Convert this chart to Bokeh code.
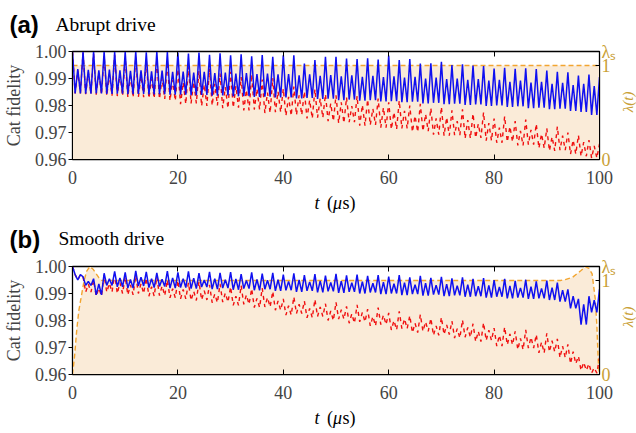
import math
from bokeh.plotting import figure
from bokeh.models import Range1d, LinearAxis, FixedTicker, PrintfTickFormatter, Label
from bokeh.layouts import column, row
from bokeh.embed import file_html
from bokeh.resources import INLINE

# ---------------- data ----------------
# values per 2-us period k (t = 2k): peak, secondary peak, trough
blue_a_hi = [1.0000, 1.0000, 1.0000, 1.0000, 0.9998, 1.0000, 1.0000, 0.9997, 1.0000, 0.9998,
             0.9996, 0.9992, 0.9996, 0.9988, 0.9993, 0.9986, 0.9990, 0.9982, 0.9987, 0.9980,
             0.9986, 0.9986, 0.9955, 0.9968, 0.9980, 0.9980, 0.9974, 0.9972, 0.9975, 0.9970,
             0.9985, 0.9968, 0.9972, 0.9955, 0.9956, 0.9962, 0.9950, 0.9953, 0.9948, 0.9946,
             0.9937, 0.9940, 0.9936, 0.9938, 0.9935, 0.9929, 0.9925, 0.9923, 0.9911, 0.9915]
blue_a_mid = [0.9935, 0.9932, 0.9930, 0.9933, 0.9930, 0.9928, 0.9930, 0.9927, 0.9929, 0.9925,
              0.9926, 0.9922, 0.9925, 0.9920, 0.9922, 0.9918, 0.9920, 0.9916, 0.9918, 0.9915,
              0.9916, 0.9912, 0.9915, 0.9910, 0.9913, 0.9908, 0.9912, 0.9906, 0.9910, 0.9905,
              0.9908, 0.9903, 0.9906, 0.9900, 0.9903, 0.9898, 0.9900, 0.9895, 0.9898, 0.9892,
              0.9895, 0.9888, 0.9892, 0.9885, 0.9888, 0.9880, 0.9884, 0.9876, 0.9880, 0.9872]
blue_a_lo = [0.9845, 0.9844, 0.9845, 0.9843, 0.9844, 0.9842, 0.9843, 0.9841, 0.9842, 0.9840,
             0.9840, 0.9838, 0.9839, 0.9836, 0.9837, 0.9834, 0.9835, 0.9832, 0.9833, 0.9830,
             0.9830, 0.9826, 0.9828, 0.9824, 0.9825, 0.9820, 0.9822, 0.9818, 0.9820, 0.9815,
             0.9816, 0.9812, 0.9814, 0.9808, 0.9810, 0.9805, 0.9807, 0.9802, 0.9804, 0.9798,
             0.9800, 0.9795, 0.9797, 0.9790, 0.9792, 0.9786, 0.9788, 0.9780, 0.9776, 0.9765]
blue_a_end = 0.9905

red_a_hi = [1.0000, 0.9995, 0.9992, 0.9985, 0.9988, 0.9976, 0.9980, 0.9968, 0.9972, 0.9962,
            0.9935, 0.9945, 0.9928, 0.9936, 0.9918, 0.9925, 0.9905, 0.9915, 0.9896, 0.9902,
            0.9862, 0.9870, 0.9852, 0.9860, 0.9842, 0.9838, 0.9830, 0.9835, 0.9822, 0.9826,
            0.9812, 0.9818, 0.9800, 0.9806, 0.9790, 0.9795, 0.9782, 0.9786, 0.9770, 0.9775,
            0.9752, 0.9760, 0.9742, 0.9748, 0.9732, 0.9715, 0.9722, 0.9700, 0.9690, 0.9672]
red_a_mid = [0.9930, 0.9925, 0.9922, 0.9915, 0.9916, 0.9908, 0.9910, 0.9900, 0.9902, 0.9895,
             0.9885, 0.9888, 0.9878, 0.9880, 0.9868, 0.9872, 0.9858, 0.9862, 0.9848, 0.9852,
             0.9832, 0.9838, 0.9820, 0.9826, 0.9808, 0.9812, 0.9798, 0.9802, 0.9788, 0.9792,
             0.9775, 0.9780, 0.9762, 0.9768, 0.9752, 0.9756, 0.9742, 0.9746, 0.9732, 0.9735,
             0.9718, 0.9722, 0.9706, 0.9710, 0.9695, 0.9684, 0.9688, 0.9672, 0.9664, 0.9650]
red_a_lo = [0.9845, 0.9842, 0.9840, 0.9836, 0.9835, 0.9830, 0.9831, 0.9826, 0.9824, 0.9818,
            0.9805, 0.9808, 0.9798, 0.9800, 0.9790, 0.9792, 0.9782, 0.9785, 0.9772, 0.9775,
            0.9762, 0.9765, 0.9752, 0.9755, 0.9742, 0.9735, 0.9738, 0.9725, 0.9728, 0.9718,
            0.9712, 0.9715, 0.9702, 0.9705, 0.9692, 0.9688, 0.9690, 0.9678, 0.9680, 0.9670,
            0.9662, 0.9665, 0.9652, 0.9655, 0.9642, 0.9632, 0.9635, 0.9620, 0.9612, 0.9605]
red_a_end = 0.9658

blue_b_hi = [1.0000, 0.9962, 0.9955, 0.9975, 0.9982, 0.9978, 0.9984, 0.9980, 0.9976, 0.9983,
             0.9978, 0.9982, 0.9975, 0.9980, 0.9976, 0.9979, 0.9972, 0.9978, 0.9974, 0.9976,
             0.9970, 0.9975, 0.9968, 0.9972, 0.9966, 0.9973, 0.9967, 0.9970, 0.9965, 0.9968,
             0.9963, 0.9968, 0.9960, 0.9965, 0.9958, 0.9962, 0.9956, 0.9960, 0.9954, 0.9957,
             0.9950, 0.9954, 0.9947, 0.9951, 0.9945, 0.9948, 0.9940, 0.9915, 0.9880, 0.9890]
blue_b_mid = [0.9950, 0.9945, 0.9935, 0.9955, 0.9958, 0.9952, 0.9960, 0.9955, 0.9953, 0.9958,
              0.9955, 0.9957, 0.9950, 0.9955, 0.9951, 0.9954, 0.9948, 0.9952, 0.9949, 0.9951,
              0.9945, 0.9950, 0.9943, 0.9947, 0.9941, 0.9946, 0.9940, 0.9944, 0.9938, 0.9942,
              0.9936, 0.9940, 0.9933, 0.9938, 0.9931, 0.9935, 0.9929, 0.9933, 0.9927, 0.9930,
              0.9924, 0.9928, 0.9921, 0.9925, 0.9919, 0.9922, 0.9912, 0.9890, 0.9860, 0.9875]
blue_b_lo = [0.9970, 0.9930, 0.9895, 0.9930, 0.9925, 0.9920, 0.9928, 0.9922, 0.9926, 0.9920,
             0.9922, 0.9918, 0.9924, 0.9916, 0.9920, 0.9914, 0.9918, 0.9912, 0.9916, 0.9910,
             0.9912, 0.9906, 0.9910, 0.9904, 0.9908, 0.9902, 0.9906, 0.9900, 0.9904, 0.9898,
             0.9900, 0.9894, 0.9898, 0.9892, 0.9896, 0.9890, 0.9893, 0.9888, 0.9890, 0.9885,
             0.9888, 0.9882, 0.9885, 0.9880, 0.9882, 0.9876, 0.9870, 0.9845, 0.9785, 0.9830]
blue_b_end = 0.9915

red_b_hi = [1.0000, 0.9962, 0.9950, 0.9968, 0.9972, 0.9962, 0.9968, 0.9958, 0.9962, 0.9950,
            0.9948, 0.9940, 0.9944, 0.9932, 0.9936, 0.9925, 0.9930, 0.9918, 0.9920, 0.9908,
            0.9880, 0.9888, 0.9872, 0.9878, 0.9862, 0.9868, 0.9852, 0.9858, 0.9842, 0.9848,
            0.9828, 0.9834, 0.9818, 0.9822, 0.9808, 0.9812, 0.9798, 0.9802, 0.9788, 0.9792,
            0.9772, 0.9776, 0.9760, 0.9765, 0.9748, 0.9752, 0.9732, 0.9712, 0.9668, 0.9640]
red_b_mid = [0.9950, 0.9935, 0.9920, 0.9938, 0.9940, 0.9932, 0.9936, 0.9925, 0.9928, 0.9918,
             0.9915, 0.9908, 0.9910, 0.9898, 0.9902, 0.9890, 0.9895, 0.9882, 0.9885, 0.9872,
             0.9855, 0.9860, 0.9845, 0.9850, 0.9835, 0.9840, 0.9825, 0.9830, 0.9815, 0.9820,
             0.9800, 0.9806, 0.9790, 0.9795, 0.9780, 0.9784, 0.9770, 0.9774, 0.9760, 0.9764,
             0.9745, 0.9750, 0.9734, 0.9738, 0.9720, 0.9725, 0.9705, 0.9685, 0.9645, 0.9625]
red_b_lo = [0.9970, 0.9905, 0.9890, 0.9905, 0.9900, 0.9895, 0.9900, 0.9890, 0.9892, 0.9884,
            0.9880, 0.9874, 0.9876, 0.9866, 0.9868, 0.9856, 0.9860, 0.9848, 0.9850, 0.9838,
            0.9820, 0.9826, 0.9810, 0.9815, 0.9800, 0.9805, 0.9790, 0.9795, 0.9780, 0.9785,
            0.9765, 0.9770, 0.9755, 0.9760, 0.9745, 0.9748, 0.9735, 0.9738, 0.9722, 0.9726,
            0.9705, 0.9710, 0.9692, 0.9698, 0.9680, 0.9684, 0.9662, 0.9640, 0.9615, 0.9605]
red_b_end = 0.9662

# drive amplitude lambda(t)
LAM_S = 1.149
lam_a_t = [0.0, 100.0]
lam_a = [1.0, 1.0]
lam_b_t = [0.0, 0.4, 0.8, 1.2, 1.7, 2.2, 2.7, 3.3, 3.9, 4.5, 5.0, 5.6,
           92.6, 93.5, 94.9, 96.5, 97.3, 98.0, 98.6, 99.2, 99.5, 99.8, 100.0]
lam_b = [0.0, 0.2, 0.47, 0.68, 0.84, 1.0, 1.1, 1.149, 1.12, 1.07, 1.03, 1.0,
         1.0, 1.01, 1.035, 1.106, 1.149, 1.13, 1.07, 0.8, 0.52, 0.1, 0.0]

x_ticks = [0, 20, 40, 60, 80, 100]
y_ticks = [0.96, 0.97, 0.98, 0.99, 1.00]
lam_ticks = [0, 1, LAM_S]
lam_labels = {0: "0", 1: "1", LAM_S: "λₛ"}

# ---------------- style ----------------
SERIF = "Liberation Serif"
SANS = "Liberation Sans"
BLUE = "#1010F0"
RED = "#F01010"
ORANGE = "#F2A530"
FILL = "#FAEBD8"
GOLD = "#C9A035"

W = 636
PANEL_W = 619      # plot figure width (rest is a narrow strip for the λ(t) label)
PANEL_H = 150


def expand(hi, mid, lo, end):
    ts, vs = [], []
    for k in range(len(hi)):
        t0 = 2.0 * k
        ts += [t0, t0 + 0.5, t0 + 1.0, t0 + 1.5]
        vs += [hi[k], lo[k], mid[k], lo[k]]
    ts.append(100.0)
    vs.append(end)
    return ts, vs


def strip(width, height):
    s = figure(width=width, height=height, output_backend="svg", toolbar_location=None,
               x_range=Range1d(0, width), y_range=Range1d(height, 0),
               x_axis_type=None, y_axis_type=None, min_border=0,
               outline_line_color=None)
    s.background_fill_color = "white"
    s.border_fill_color = "white"
    return s


def txt(s, x, y, text, size, font=SERIF, style="normal", color="black",
        align="left", baseline="alphabetic", angle=0.0):
    s.add_layout(Label(x=x, y=y, text=text, text_font=font, text_font_size=size,
                       text_font_style=style, text_color=color, text_align=align,
                       text_baseline=baseline, angle=angle))


def xlabel(s, y):
    txt(s, 314, y, "t", "18px", style="italic")
    txt(s, 326.5, y, "(", "18px")
    txt(s, 332.5, y, "μ", "18px", style="italic")
    txt(s, 342, y, "s)", "18px")


def make_panel(lam_t, lam_v, blue, red):
    p = figure(width=PANEL_W, height=PANEL_H, output_backend="svg", toolbar_location=None,
               x_range=Range1d(0, 100), y_range=Range1d(0.96, 1.0),
               min_border_left=71, min_border_right=PANEL_W - 71 - 528,
               min_border_top=11, min_border_bottom=PANEL_H - 11 - 108)
    p.extra_y_ranges = {"lam": Range1d(0, LAM_S)}
    p.xgrid.visible = False
    p.ygrid.visible = False
    p.outline_line_color = "black"
    p.outline_line_width = 1.3
    p.background_fill_color = "white"
    p.border_fill_color = "white"

    p.varea(x=lam_t, y1=[0.0] * len(lam_t), y2=lam_v, y_range_name="lam",
            fill_color=FILL, fill_alpha=1.0)
    p.line(lam_t, lam_v, y_range_name="lam", line_color=ORANGE, line_width=1.4,
           line_dash="5 3")

    bt, bv = blue
    rt, rv = red
    p.line(rt, rv, line_color=RED, line_width=1.4, line_dash="4 4")
    p.line(bt, bv, line_color=BLUE, line_width=1.5)

    ya = p.yaxis[0]
    ya.ticker = FixedTicker(ticks=y_ticks)
    ya.formatter = PrintfTickFormatter(format="%.2f")
    ya.major_tick_out = 4
    ya.major_tick_in = 0
    ya.minor_tick_line_color = None
    ya.major_label_standoff = 2
    ya.major_label_text_font = SERIF
    ya.major_label_text_font_size = "18px"
    ya.axis_label = "Cat fidelity"
    ya.axis_label_text_font = SERIF
    ya.axis_label_text_font_size = "18px"
    ya.axis_label_text_font_style = "normal"
    ya.axis_label_standoff = 8

    xa = p.xaxis[0]
    xa.ticker = FixedTicker(ticks=x_ticks)
    xa.major_tick_in = 5
    xa.major_tick_out = 0
    xa.minor_tick_line_color = None
    xa.major_label_standoff = 11
    xa.major_label_text_font = SERIF
    xa.major_label_text_font_size = "18px"

    top = LinearAxis(ticker=FixedTicker(ticks=x_ticks), major_tick_in=5, major_tick_out=0,
                     minor_tick_line_color=None, major_label_text_font_size="1px",
                     major_label_text_color=None, major_label_standoff=0)
    p.add_layout(top, "above")

    ra = LinearAxis(y_range_name="lam", ticker=FixedTicker(ticks=lam_ticks),
                    major_label_overrides=lam_labels,
                    major_tick_out=0, major_tick_in=4, minor_tick_line_color=None,
                    major_label_standoff=2, major_label_text_font=SERIF,
                    major_label_text_font_size="18px", major_label_text_color=GOLD)
    p.add_layout(ra, "right")
    return p


def side_strip():
    w = W - PANEL_W
    s = strip(w, PANEL_H)
    txt(s, w / 2.0, 70, "λ(t)", "15px", style="italic", color=GOLD,
        align="center", baseline="middle", angle=math.pi / 2)
    return s


pa = make_panel(lam_a_t, lam_a,
                expand(blue_a_hi, blue_a_mid, blue_a_lo, blue_a_end),
                expand(red_a_hi, red_a_mid, red_a_lo, red_a_end))
pb = make_panel(lam_b_t, lam_b,
                expand(blue_b_hi, blue_b_mid, blue_b_lo, blue_b_end),
                expand(red_b_hi, red_b_mid, red_b_lo, red_b_end))

top_strip = strip(W, 40)
txt(top_strip, 9, 24, "(a)", "24px", font=SANS, style="bold")
txt(top_strip, 55, 23.5, "Abrupt drive", "19.5px")

mid_strip = strip(W, 65)
xlabel(mid_strip, 12)
txt(mid_strip, 9, 48.5, "(b)", "24px", font=SANS, style="bold")
txt(mid_strip, 58, 48, "Smooth drive", "19.5px")

bot_strip = strip(W, 28)
xlabel(bot_strip, 12)

layout = column(top_strip, row(pa, side_strip(), spacing=0), mid_strip,
                row(pb, side_strip(), spacing=0), bot_strip, spacing=0)
open("out.html", "w").write(file_html(layout, INLINE))
